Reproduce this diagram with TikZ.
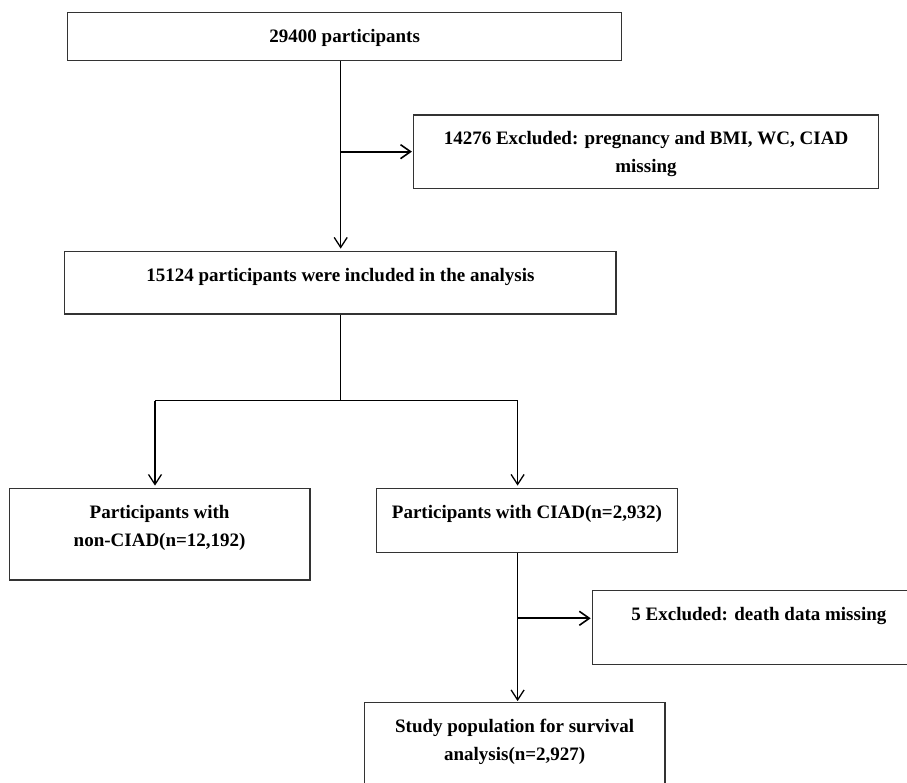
\documentclass[tikz,border=0pt]{standalone}
\usepackage{fontspec}
\setmainfont{Liberation Serif}
\usetikzlibrary{arrows.meta}
\newcommand\mystrut{\rule{0pt}{14pt}}
\begin{document}
\begin{tikzpicture}[x=1pt,y=-1pt,
  box/.style={draw=black!80, line width=1.2pt, rectangle, inner sep=0pt},
  txt/.style={anchor=north, inner sep=0pt, align=center, font=\bfseries\fontsize{19}{28.3}\selectfont},
  conn/.style={line width=1.3pt, draw=black},
  arr/.style={conn, -{Straight Barb[length=10pt,width=13pt,line width=1.3pt]}},
  sidearr/.style={line width=2.2pt, draw=black, -{Straight Barb[length=10pt,width=14pt,line width=1.6pt]}}
]
\clip (0,0) rectangle (907,782);
% boxes
\node[box, minimum width=554pt,   minimum height=48pt]   (b1) at (344.7,36.7)   {};
\node[box, minimum width=465pt,   minimum height=73.3pt] (b2) at (646,151.65)   {};
\node[box, minimum width=551.2pt, minimum height=62.3pt] (b3) at (340.4,282.85) {};
\node[box, minimum width=300.7pt, minimum height=91.3pt] (b4) at (159.65,534.35) {};
\node[box, minimum width=300.8pt, minimum height=63.6pt] (b5) at (526.9,520.5)  {};
\node[box, minimum width=332.2pt, minimum height=73.6pt] (b6) at (758.9,627.5)  {};
\node[box, minimum width=300.6pt, minimum height=97.3pt] (b7) at (514.7,751.35) {};
% texts
\node[txt] (t1) at (344.7,28)   {\mystrut 29400 participants};
\node[txt] (t2) at (646,130.3)  {\mystrut 14276 Excluded: pregnancy and BMI, WC, CIAD\\missing};
\node[txt] (t3) at (340.4,267)  {\mystrut 15124 participants were included in the analysis};
\node[txt] (t4) at (159.65,504) {\mystrut Participants with\\non-CIAD(n=12,192)};
\node[txt] (t5) at (526.9,504)  {\mystrut Participants with CIAD(n=2,932)};
\node[txt] (t6) at (758.9,606)  {\mystrut 5 Excluded: death data missing};
\node[txt] (t7) at (514.7,718)  {\mystrut Study population for survival\\analysis(n=2,927)};
% junctions
\coordinate (j1) at (340.7,151.65);
\coordinate (j2) at (340.7,400.7);
\coordinate (j3) at (155,400.7);
\coordinate (j4) at (517.6,400.7);
\coordinate (j5) at (517.6,618.3);
% connectors
\draw[arr, shorten >=2.5pt] (b1.south -| j1) -- (b3.north -| j1);
\draw[sidearr, shorten >=1pt] (j1) -- (b2.west);
\draw[conn] (b3.south -| j1) -- (j2);
\draw[conn] (j3) -- (j4);
\draw[arr, shorten >=2.5pt] (j3) -- (j3 |- b4.north);
\draw[arr, shorten >=2.5pt] (j4) -- (j4 |- b5.north);
\draw[arr, shorten >=1pt] (b5.south -| j5) -- (b7.north -| j5);
\draw[sidearr, shorten >=1.5pt] (j5) -- (j5 -| b6.west);
\end{tikzpicture}
\end{document}
